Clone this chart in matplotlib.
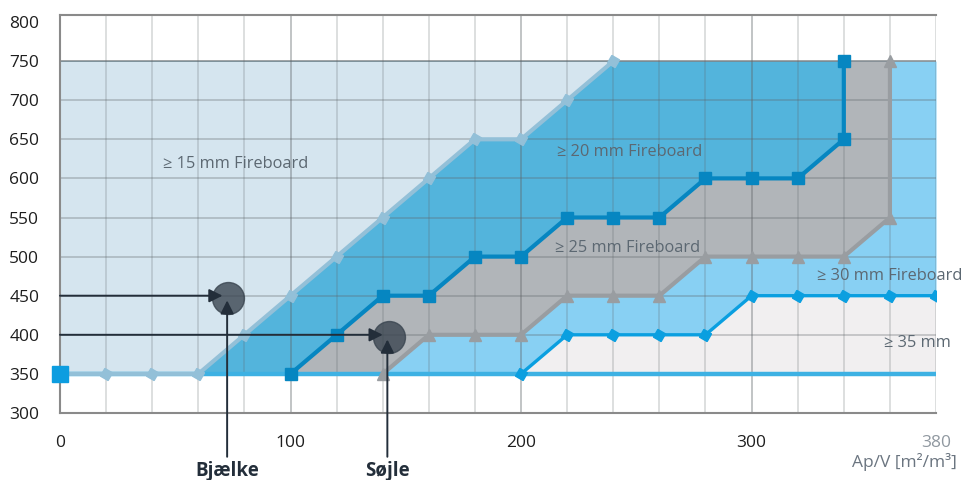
import matplotlib
matplotlib.use("Agg")
import matplotlib.pyplot as plt

plt.rcParams['font.family'] = ['Open Sans', 'DejaVu Sans']

# staircase limits per board thickness (Ap/V vs temperature)
x15 = [0, 20, 40, 60, 80, 100, 120, 140, 160, 180, 200, 220, 240]
y15 = [350, 350, 350, 350, 400, 450, 500, 550, 600, 650, 650, 700, 750]
x20 = [100, 120, 140, 160, 180, 200, 220, 240, 260, 280, 300, 320, 340, 340]
y20 = [350, 400, 450, 450, 500, 500, 550, 550, 550, 600, 600, 600, 650, 750]
x25 = [140, 160, 180, 200, 220, 240, 260, 280, 300, 320, 340, 360, 360]
y25 = [350, 400, 400, 400, 450, 450, 450, 500, 500, 500, 500, 550, 750]
x30 = [200, 220, 240, 260, 280, 300, 320, 340, 360, 380]
y30 = [350, 400, 400, 400, 400, 450, 450, 450, 450, 450]

base_y = 350
top_y = 750
x_max = 380

region_labels = ["\u2265 15 mm Fireboard", "\u2265 20 mm Fireboard", "\u2265 25 mm Fireboard",
                 "\u2265 30 mm Fireboard", "\u2265 35 mm"]
label_x = [76, 247, 246, 360, 372]
label_y = [619, 634, 511, 475, 390]

members = ["Bj\u00e6lke", "S\u00f8jle"]
member_x = [72.5, 142]
member_y = [450, 400]

xticks = [0, 100, 200, 300, 380]
yticks = [300, 350, 400, 450, 500, 550, 600, 650, 700, 750, 800]

fig = plt.figure(figsize=(9.63, 4.8), dpi=100)
ax = fig.add_axes((0.0623, 0.1396, 0.9097, 0.8292))
ax.set_xlim(0, x_max)
ax.set_ylim(300, 809)

# filled regions, drawn from the thickest board outward
ax.fill_between([0, x_max], base_y, top_y, color='#f1eff0', lw=0, zorder=1)
ax.fill_between([0] + x30, [base_y] + y30, top_y, color='#88d0f3', lw=0, zorder=1)
ax.fill_between([0] + x25, [base_y] + y25, top_y, color='#b1b5b9', lw=0, zorder=1)
ax.fill_between([0] + x20, [base_y] + y20, top_y, color='#53b4dc', lw=0, zorder=1)
ax.fill_between(x15, y15, top_y, color='#d5e5ef', lw=0, zorder=1)

# grid
for gx in range(0, x_max + 1, 20):
    major = gx % 100 == 0 and gx > 0
    ax.axvline(gx, color='#5f6569', alpha=0.45 if major else 0.25, lw=1.2, zorder=2)
for gy in yticks[:-1]:
    major = gy == top_y
    ax.axhline(gy, color='#5f6569', alpha=0.6 if major else 0.3, lw=1.4, zorder=2)

# boundary lines
ax.plot([0, x_max], [base_y, base_y], color='#3db1e3', lw=3.2, zorder=3, solid_capstyle='butt')
ax.plot(x30, y30, color='#0a9fe0', lw=2.4, marker=(4, 0, 15), ms=9, zorder=3)
ax.plot(x25, y25, color='#999da1', lw=3, marker='^', ms=9, zorder=3)
ax.plot(x20, y20, color='#0686c1', lw=3, marker='s', ms=9, zorder=3)
ax.plot(x15, y15, color='#93c0d8', lw=3, marker=(4, 0, 15), ms=9, zorder=3)
ax.plot([0], [base_y], color='#0c9de0', marker='s', ms=12, lw=0, zorder=4, clip_on=False)

for txt, tx, ty in zip(region_labels, label_x, label_y):
    ax.text(tx, ty, txt, ha='center', va='center', fontsize=11.8, color='#5c6872', zorder=5)

# member markers with arrows
dark = '#232e3a'
for name, mx, my in zip(members, member_x, member_y):
    ax.plot([mx + 0.5], [my - 3], 'o', ms=23, color='#3a4550', alpha=0.8, zorder=4)
    ax.annotate('', xy=(mx - 2, my), xytext=(0, my),
                arrowprops=dict(arrowstyle='-|>', color=dark, lw=1.4, mutation_scale=20,
                                shrinkA=0, shrinkB=0), zorder=6)
    ax.annotate('', xy=(mx, my - 6), xytext=(mx, -0.11),
                textcoords=('data', 'axes fraction'), annotation_clip=False,
                arrowprops=dict(arrowstyle='-|>', color=dark, lw=1.4, mutation_scale=20,
                                shrinkA=0, shrinkB=0), zorder=6)
    ax.text(mx, -0.145, name, transform=ax.get_xaxis_transform(), ha='center', va='center',
            fontsize=13.5, fontweight='bold', color=dark)

for side in ['left', 'bottom', 'top']:
    ax.spines[side].set_color('#8a8a8a')
    ax.spines[side].set_linewidth(1.5)
ax.spines['right'].set_visible(False)

ax.set_xticks(xticks)
ax.set_yticks(yticks)
ax.tick_params(axis='both', length=0, labelsize=12.5, labelcolor='#1e1e1e')
ax.tick_params(axis='x', pad=16)
ax.tick_params(axis='y', pad=15)
ax.get_xticklabels()[-1].set_color('#9098a0')

fig.text(0.994, 0.037, "Ap/V [m\u00b2/m\u00b3]", ha='right', va='center', fontsize=12.5, color='#6b7580')

fig.savefig('out.png', dpi=100)
